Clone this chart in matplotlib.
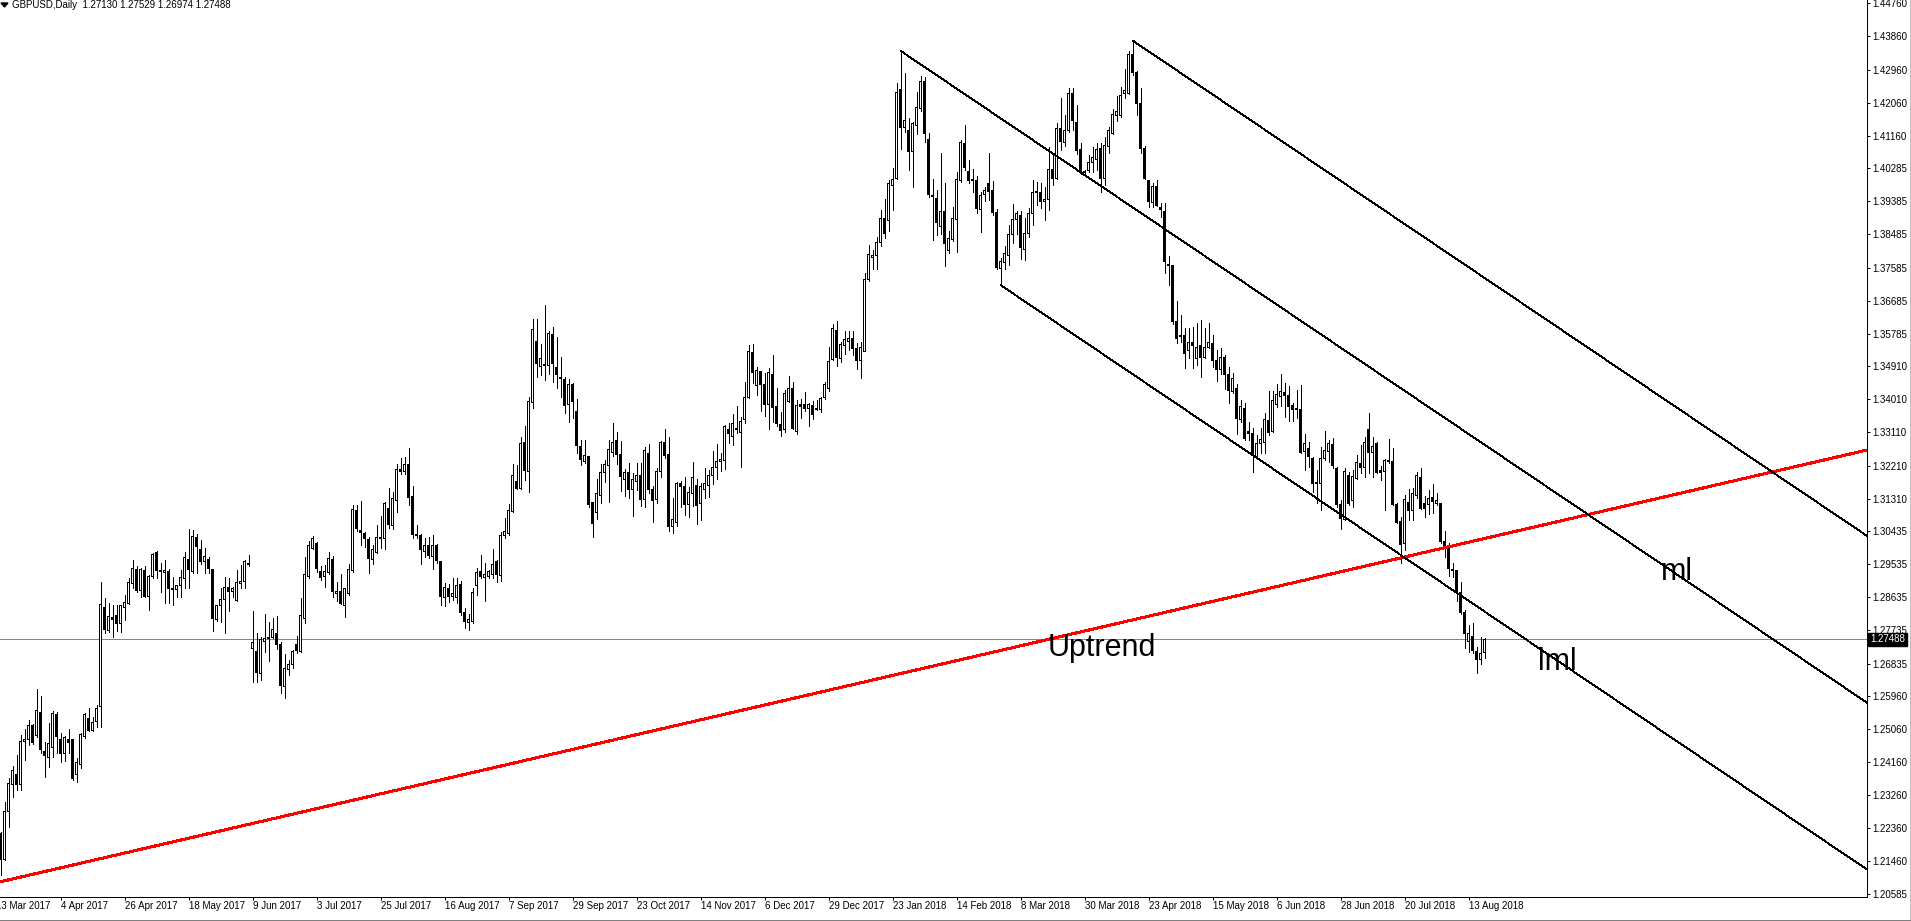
import matplotlib
matplotlib.use("Agg")
import matplotlib.pyplot as plt
import matplotlib.transforms as mtransforms
from matplotlib.lines import Line2D
from matplotlib.patches import Polygon
import numpy as np
import pandas as pd

plt.rcParams['font.family'] = ['Liberation Sans', 'DejaVu Sans']

# GBPUSD daily candles, 14 Mar 2017 .. 17 Aug 2018
opens = [
    1.2221, 1.2152, 1.2281, 1.2355, 1.2383, 1.2356, 1.2471, 1.2476, 1.2514, 1.2489,
    1.2551, 1.2444, 1.2429, 1.2456, 1.2544, 1.2478, 1.2440, 1.2476, 1.2476, 1.2381,
    1.2410, 1.2485, 1.2535, 1.2503, 1.2526, 1.2566, 1.2836, 1.2773, 1.2809, 1.2815,
    1.2793, 1.2836, 1.2847, 1.2901, 1.2939, 1.2883, 1.2937, 1.2865, 1.2919, 1.2984,
    1.2933, 1.2930, 1.2933, 1.2887, 1.2885, 1.2894, 1.2915, 1.2966, 1.2933, 1.3025,
    1.2994, 1.2960, 1.2966, 1.2938, 1.2802, 1.2840, 1.2858, 1.2890, 1.2879, 1.2854,
    1.2901, 1.2906, 1.2956, 1.2725, 1.2716, 1.2657, 1.2743, 1.2755, 1.2754, 1.2765,
    1.2734, 1.2621, 1.2668, 1.2680, 1.2736, 1.2716, 1.2806, 1.2920, 1.2996, 1.3010,
    1.2933, 1.2919, 1.2931, 1.2965, 1.2874, 1.2879, 1.2842, 1.2874, 1.2937, 1.3100,
    1.3046, 1.3037, 1.3019, 1.2965, 1.2986, 1.3023, 1.3023, 1.3105, 1.3059, 1.3125,
    1.3206, 1.3205, 1.3223, 1.3138, 1.3032, 1.3030, 1.2987, 1.3003, 1.2974, 1.3005,
    1.2960, 1.2862, 1.2888, 1.2865, 1.2862, 1.2897, 1.2823, 1.2795, 1.2797, 1.2895,
    1.2933, 1.2917, 1.2919, 1.2926, 1.2960, 1.2922, 1.3030, 1.3037, 1.3096, 1.3179,
    1.3159, 1.3284, 1.3204, 1.3392, 1.3559, 1.3490, 1.3492, 1.3494, 1.3577, 1.3488,
    1.3461, 1.3455, 1.3388, 1.3440, 1.3369, 1.3274, 1.3231, 1.3245, 1.3120, 1.3093,
    1.3141, 1.3202, 1.3222, 1.3256, 1.3290, 1.3252, 1.3184, 1.3203, 1.3157, 1.3177,
    1.3195, 1.3129, 1.3254, 1.3157, 1.3129, 1.3204, 1.3284, 1.3250, 1.3055, 1.3066,
    1.3171, 1.3164, 1.3114, 1.3146, 1.3168, 1.3117, 1.3157, 1.3168, 1.3193, 1.3216,
    1.3233, 1.3236, 1.3320, 1.3300, 1.3322, 1.3310, 1.3347, 1.3406, 1.3528, 1.3437,
    1.3476, 1.3442, 1.3387, 1.3469, 1.3381, 1.3333, 1.3318, 1.3394, 1.3429, 1.3313,
    1.3386, 1.3386, 1.3375, 1.3384, 1.3374, 1.3372, 1.3406, 1.3431, 1.3510, 1.3589,
    1.3512, 1.3548, 1.3557, 1.3565, 1.3539, 1.3505, 1.3532, 1.3725, 1.3785, 1.3791,
    1.3827, 1.3892, 1.3886, 1.3981, 1.4001, 1.4243, 1.4138, 1.4132, 1.4073, 1.4144,
    1.4191, 1.4263, 1.4105, 1.3954, 1.3945, 1.3870, 1.3912, 1.3806, 1.3836, 1.3888,
    1.3994, 1.4096, 1.4019, 1.3999, 1.3996, 1.3915, 1.3956, 1.3987, 1.3969, 1.3908,
    1.3756, 1.3773, 1.3791, 1.3849, 1.3888, 1.3899, 1.3808, 1.3850, 1.3904, 1.3961,
    1.3963, 1.3937, 1.3942, 1.4025, 1.4001, 1.4137, 1.4098, 1.4132, 1.4230, 1.4152,
    1.4078, 1.4019, 1.4023, 1.4043, 1.4051, 1.4082, 1.4001, 1.4087, 1.4123, 1.4172,
    1.4172, 1.4231, 1.4231, 1.4336, 1.4288, 1.4204, 1.4082, 1.3996, 1.3935, 1.3980,
    1.3922, 1.3910, 1.3766, 1.3763, 1.3612, 1.3571, 1.3573, 1.3533, 1.3556, 1.3512,
    1.3546, 1.3515, 1.3542, 1.3553, 1.3506, 1.3482, 1.3515, 1.3467, 1.3422, 1.3431,
    1.3345, 1.3376, 1.3313, 1.3307, 1.3243, 1.3282, 1.3283, 1.3343, 1.3314, 1.3388,
    1.3408, 1.3418, 1.3410, 1.3385, 1.3372, 1.3372, 1.3259, 1.3268, 1.3241, 1.3176,
    1.3171, 1.3241, 1.3259, 1.3277, 1.3213, 1.3114, 1.3075, 1.3193, 1.3127, 1.3186,
    1.3227, 1.3216, 1.3318, 1.3256, 1.3280, 1.3207, 1.3204, 1.3231, 1.3232, 1.3114,
    1.3069, 1.3010, 1.3121, 1.3098, 1.3141, 1.3189, 1.3118, 1.3114, 1.3135, 1.3118,
    1.3117, 1.3014, 1.3005, 1.2940, 1.2937, 1.2876, 1.2822, 1.2743, 1.2756, 1.2716,
    1.2695, 1.27130,
]
highs = [
    1.2225, 1.2308, 1.2372, 1.2405, 1.2435, 1.2489, 1.2505, 1.2530, 1.2519, 1.2613,
    1.2595, 1.2471, 1.2523, 1.2555, 1.2553, 1.2494, 1.2487, 1.2505, 1.2478, 1.2426,
    1.2496, 1.2548, 1.2562, 1.2539, 1.2571, 1.2904, 1.2861, 1.2849, 1.2843, 1.2843,
    1.2843, 1.2870, 1.2915, 1.2965, 1.2948, 1.2942, 1.2948, 1.2924, 1.2983, 1.2989,
    1.2957, 1.2965, 1.2939, 1.2919, 1.2897, 1.2937, 1.2987, 1.3048, 1.3046, 1.3035,
    1.3019, 1.2996, 1.2974, 1.2939, 1.2843, 1.2888, 1.2919, 1.2915, 1.2892, 1.2937,
    1.2951, 1.2965, 1.2978, 1.2827, 1.2767, 1.2756, 1.2818, 1.2797, 1.2806, 1.2813,
    1.2743, 1.2708, 1.2693, 1.2720, 1.2758, 1.2861, 1.2974, 1.3016, 1.3031, 1.3013,
    1.2947, 1.2951, 1.2985, 1.2975, 1.2906, 1.2926, 1.2888, 1.2953, 1.3114, 1.3114,
    1.3125, 1.3040, 1.3028, 1.3005, 1.3060, 1.3084, 1.3123, 1.3159, 1.3150, 1.3224,
    1.3242, 1.3245, 1.3268, 1.3166, 1.3060, 1.3034, 1.3025, 1.3028, 1.3032, 1.3007,
    1.2962, 1.2901, 1.2899, 1.2915, 1.2915, 1.2908, 1.2835, 1.2817, 1.2888, 1.2942,
    1.2978, 1.2956, 1.2937, 1.2994, 1.2965, 1.3041, 1.3079, 1.3116, 1.3224, 1.3222,
    1.3298, 1.3328, 1.3406, 1.3619, 1.3618, 1.3551, 1.3657, 1.3587, 1.3596, 1.3569,
    1.3515, 1.3461, 1.3455, 1.3444, 1.3401, 1.3290, 1.3290, 1.3247, 1.3123, 1.3184,
    1.3225, 1.3236, 1.3290, 1.3336, 1.3313, 1.3289, 1.3212, 1.3229, 1.3200, 1.3227,
    1.3229, 1.3272, 1.3280, 1.3166, 1.3214, 1.3288, 1.3320, 1.3298, 1.3132, 1.3177,
    1.3179, 1.3191, 1.3164, 1.3232, 1.3184, 1.3173, 1.3213, 1.3209, 1.3261, 1.3280,
    1.3254, 1.3331, 1.3337, 1.3361, 1.3383, 1.3354, 1.3449, 1.3548, 1.3551, 1.3488,
    1.3479, 1.3473, 1.3487, 1.3521, 1.3431, 1.3367, 1.3426, 1.3465, 1.3447, 1.3399,
    1.3403, 1.3420, 1.3390, 1.3396, 1.3399, 1.3408, 1.3449, 1.3544, 1.3604, 1.3613,
    1.3556, 1.3586, 1.3586, 1.3585, 1.3553, 1.3557, 1.3743, 1.3820, 1.3806, 1.3842,
    1.3915, 1.3945, 1.3996, 1.4028, 1.4261, 1.4347, 1.4286, 1.4164, 1.4153, 1.4234,
    1.4280, 1.4277, 1.4123, 1.3999, 1.3969, 1.4069, 1.3987, 1.3858, 1.3924, 1.4019,
    1.4105, 1.4145, 1.4051, 1.4026, 1.4008, 1.3965, 1.3978, 1.4069, 1.3994, 1.3917,
    1.3784, 1.3818, 1.3874, 1.3930, 1.3912, 1.3912, 1.3892, 1.3919, 1.3996, 1.3992,
    1.3987, 1.3978, 1.4087, 1.4069, 1.4150, 1.4218, 1.4173, 1.4245, 1.4245, 1.4200,
    1.4096, 1.4023, 1.4064, 1.4087, 1.4096, 1.4096, 1.4112, 1.4139, 1.4188, 1.4224,
    1.4248, 1.4297, 1.4347, 1.4375, 1.4293, 1.4245, 1.4089, 1.3996, 1.3989, 1.3996,
    1.3935, 1.3935, 1.3790, 1.3766, 1.3669, 1.3630, 1.3594, 1.3594, 1.3596, 1.3607,
    1.3616, 1.3594, 1.3607, 1.3575, 1.3535, 1.3540, 1.3520, 1.3488, 1.3471, 1.3442,
    1.3399, 1.3390, 1.3340, 1.3322, 1.3304, 1.3322, 1.3363, 1.3424, 1.3424, 1.3442,
    1.3470, 1.3445, 1.3436, 1.3390, 1.3426, 1.3440, 1.3308, 1.3286, 1.3245, 1.3210,
    1.3272, 1.3316, 1.3290, 1.3295, 1.3216, 1.3127, 1.3213, 1.3204, 1.3209, 1.3250,
    1.3277, 1.3299, 1.3363, 1.3299, 1.3286, 1.3220, 1.3238, 1.3292, 1.3268, 1.3118,
    1.3082, 1.3141, 1.3156, 1.3159, 1.3204, 1.3213, 1.3137, 1.3155, 1.3171, 1.3146,
    1.3120, 1.3042, 1.3010, 1.2956, 1.2937, 1.2906, 1.2829, 1.2788, 1.2793, 1.2729,
    1.2755, 1.27529,
]
lows = [
    1.2109, 1.2150, 1.2241, 1.2322, 1.2340, 1.2340, 1.2422, 1.2462, 1.2465, 1.2485,
    1.2440, 1.2375, 1.2402, 1.2431, 1.2440, 1.2417, 1.2420, 1.2440, 1.2367, 1.2363,
    1.2399, 1.2481, 1.2499, 1.2499, 1.2512, 1.2512, 1.2767, 1.2770, 1.2755, 1.2773,
    1.2770, 1.2802, 1.2845, 1.2888, 1.2879, 1.2865, 1.2863, 1.2829, 1.2915, 1.2915,
    1.2879, 1.2847, 1.2849, 1.2842, 1.2865, 1.2865, 1.2888, 1.2888, 1.2929, 1.2928,
    1.2954, 1.2928, 1.2928, 1.2773, 1.2800, 1.2795, 1.2767, 1.2827, 1.2865, 1.2854,
    1.2888, 1.2888, 1.2948, 1.2634, 1.2634, 1.2639, 1.2716, 1.2689, 1.2752, 1.2723,
    1.2603, 1.2589, 1.2652, 1.2672, 1.2711, 1.2716, 1.2793, 1.2917, 1.2994, 1.2933,
    1.2910, 1.2892, 1.2926, 1.2865, 1.2852, 1.2844, 1.2811, 1.2870, 1.2933, 1.3043,
    1.3005, 1.3001, 1.2930, 1.2953, 1.2983, 1.2996, 1.2995, 1.3052, 1.3050, 1.3096,
    1.3197, 1.3197, 1.3114, 1.3023, 1.3023, 1.2953, 1.2974, 1.2969, 1.2940, 1.2956,
    1.2843, 1.2841, 1.2851, 1.2856, 1.2847, 1.2815, 1.2779, 1.2775, 1.2793, 1.2870,
    1.2915, 1.2852, 1.2915, 1.2915, 1.2906, 1.2908, 1.3025, 1.3032, 1.3094, 1.3157,
    1.3157, 1.3182, 1.3150, 1.3376, 1.3462, 1.3467, 1.3452, 1.3470, 1.3449, 1.3431,
    1.3408, 1.3363, 1.3340, 1.3349, 1.3256, 1.3223, 1.3229, 1.3108, 1.3026, 1.3075,
    1.3120, 1.3177, 1.3123, 1.3247, 1.3225, 1.3153, 1.3138, 1.3132, 1.3084, 1.3155,
    1.3111, 1.3109, 1.3146, 1.3069, 1.3120, 1.3191, 1.3241, 1.3042, 1.3037, 1.3057,
    1.3108, 1.3087, 1.3082, 1.3111, 1.3061, 1.3073, 1.3132, 1.3135, 1.3171, 1.3184,
    1.3207, 1.3211, 1.3281, 1.3277, 1.3310, 1.3218, 1.3337, 1.3404, 1.3444, 1.3413,
    1.3369, 1.3356, 1.3320, 1.3340, 1.3329, 1.3302, 1.3313, 1.3393, 1.3320, 1.3308,
    1.3349, 1.3369, 1.3329, 1.3347, 1.3372, 1.3367, 1.3402, 1.3423, 1.3508, 1.3492,
    1.3503, 1.3523, 1.3535, 1.3521, 1.3483, 1.3458, 1.3532, 1.3722, 1.3756, 1.3756,
    1.3818, 1.3838, 1.3858, 1.3915, 1.3999, 1.4080, 1.4127, 1.4023, 1.3978, 1.4120,
    1.4184, 1.4100, 1.3951, 1.3833, 1.3847, 1.3851, 1.3764, 1.3797, 1.3831, 1.3800,
    1.3992, 1.4023, 1.3987, 1.3965, 1.3906, 1.3856, 1.3938, 1.3942, 1.3901, 1.3756,
    1.3711, 1.3756, 1.3765, 1.3824, 1.3851, 1.3782, 1.3779, 1.3841, 1.3874, 1.3928,
    1.3919, 1.3888, 1.3915, 1.3983, 1.3998, 1.4078, 1.4089, 1.4127, 1.4132, 1.4067,
    1.4013, 1.4013, 1.4019, 1.4019, 1.4024, 1.3965, 1.3983, 1.4069, 1.4121, 1.4157,
    1.4166, 1.4218, 1.4229, 1.4281, 1.4173, 1.4069, 1.3998, 1.3924, 1.3922, 1.3926,
    1.3895, 1.3745, 1.3711, 1.3605, 1.3555, 1.3557, 1.3485, 1.3512, 1.3485, 1.3494,
    1.3462, 1.3512, 1.3539, 1.3488, 1.3451, 1.3470, 1.3428, 1.3390, 1.3417, 1.3308,
    1.3340, 1.3290, 1.3290, 1.3204, 1.3241, 1.3254, 1.3256, 1.3304, 1.3311, 1.3381,
    1.3382, 1.3354, 1.3343, 1.3343, 1.3349, 1.3254, 1.3209, 1.3218, 1.3150, 1.3120,
    1.3100, 1.3236, 1.3231, 1.3213, 1.3109, 1.3048, 1.3073, 1.3114, 1.3109, 1.3184,
    1.3202, 1.3189, 1.3200, 1.3191, 1.3200, 1.3182, 1.3100, 1.3229, 1.3114, 1.3064,
    1.2956, 1.2992, 1.3073, 1.3073, 1.3132, 1.3102, 1.3080, 1.3090, 1.3091, 1.3114,
    1.3010, 1.2974, 1.2921, 1.2919, 1.2854, 1.2818, 1.2725, 1.2716, 1.2711, 1.2659,
    1.2682, 1.26974,
]
closes = [
    1.2152, 1.2281, 1.2358, 1.2394, 1.2356, 1.2471, 1.2476, 1.2514, 1.2469, 1.2555,
    1.2451, 1.2435, 1.2467, 1.2548, 1.2485, 1.2440, 1.2483, 1.2469, 1.2372, 1.2414,
    1.2492, 1.2544, 1.2501, 1.2523, 1.2562, 1.2845, 1.2775, 1.2811, 1.2804, 1.2793,
    1.2840, 1.2849, 1.2903, 1.2942, 1.2883, 1.2939, 1.2865, 1.2919, 1.2980, 1.2937,
    1.2935, 1.2937, 1.2888, 1.2885, 1.2894, 1.2918, 1.2972, 1.2939, 1.3028, 1.3000,
    1.2960, 1.2975, 1.2942, 1.2806, 1.2840, 1.2858, 1.2890, 1.2879, 1.2888, 1.2903,
    1.2906, 1.2960, 1.2951, 1.2740, 1.2659, 1.2749, 1.2752, 1.2752, 1.2775, 1.2734,
    1.2623, 1.2670, 1.2681, 1.2716, 1.2718, 1.2813, 1.2924, 1.3005, 1.3023, 1.2942,
    1.2917, 1.2933, 1.2969, 1.2879, 1.2880, 1.2847, 1.2886, 1.2940, 1.3103, 1.3051,
    1.3039, 1.3023, 1.2969, 1.2994, 1.3025, 1.3025, 1.3118, 1.3061, 1.3132, 1.3209,
    1.3209, 1.3223, 1.3134, 1.3034, 1.3033, 1.2994, 1.3003, 1.2978, 1.3005, 1.2962,
    1.2865, 1.2890, 1.2865, 1.2874, 1.2895, 1.2823, 1.2797, 1.2802, 1.2877, 1.2931,
    1.2919, 1.2924, 1.2933, 1.2951, 1.2926, 1.3032, 1.3043, 1.3100, 1.3193, 1.3159,
    1.3281, 1.3207, 1.3395, 1.3590, 1.3497, 1.3512, 1.3496, 1.3580, 1.3497, 1.3469,
    1.3457, 1.3384, 1.3442, 1.3394, 1.3275, 1.3238, 1.3247, 1.3114, 1.3064, 1.3144,
    1.3203, 1.3225, 1.3265, 1.3284, 1.3250, 1.3191, 1.3203, 1.3157, 1.3184, 1.3195,
    1.3130, 1.3263, 1.3157, 1.3126, 1.3206, 1.3283, 1.3247, 1.3055, 1.3075, 1.3171,
    1.3164, 1.3114, 1.3147, 1.3188, 1.3112, 1.3164, 1.3171, 1.3193, 1.3216, 1.3233,
    1.3238, 1.3327, 1.3307, 1.3336, 1.3320, 1.3340, 1.3406, 1.3530, 1.3473, 1.3480,
    1.3442, 1.3388, 1.3474, 1.3378, 1.3336, 1.3315, 1.3417, 1.3431, 1.3322, 1.3384,
    1.3382, 1.3375, 1.3386, 1.3360, 1.3375, 1.3402, 1.3442, 1.3503, 1.3592, 1.3514,
    1.3550, 1.3564, 1.3566, 1.3539, 1.3505, 1.3541, 1.3727, 1.3794, 1.3791, 1.3827,
    1.3892, 1.3851, 1.3987, 1.3998, 1.4234, 1.4138, 1.4159, 1.4075, 1.4150, 1.4193,
    1.4263, 1.4123, 1.3956, 1.3951, 1.3881, 1.3912, 1.3824, 1.3838, 1.3892, 1.3999,
    1.4099, 1.4030, 1.3994, 1.3996, 1.3918, 1.3954, 1.3969, 1.3965, 1.3908, 1.3758,
    1.3775, 1.3797, 1.3849, 1.3888, 1.3906, 1.3813, 1.3850, 1.3904, 1.3963, 1.3965,
    1.3937, 1.3944, 1.4025, 1.4001, 1.4137, 1.4100, 1.4132, 1.4232, 1.4159, 1.4076,
    1.4019, 1.4017, 1.4043, 1.4058, 1.4080, 1.4001, 1.4089, 1.4132, 1.4175, 1.4182,
    1.4227, 1.4238, 1.4338, 1.4288, 1.4204, 1.4082, 1.4001, 1.3937, 1.3980, 1.3928,
    1.3915, 1.3775, 1.3763, 1.3612, 1.3566, 1.3575, 1.3526, 1.3555, 1.3548, 1.3542,
    1.3515, 1.3542, 1.3555, 1.3506, 1.3482, 1.3515, 1.3467, 1.3426, 1.3458, 1.3349,
    1.3381, 1.3295, 1.3309, 1.3250, 1.3281, 1.3292, 1.3346, 1.3310, 1.3397, 1.3413,
    1.3422, 1.3410, 1.3381, 1.3372, 1.3376, 1.3256, 1.3280, 1.3245, 1.3173, 1.3171,
    1.3241, 1.3261, 1.3281, 1.3220, 1.3114, 1.3078, 1.3204, 1.3118, 1.3191, 1.3229,
    1.3216, 1.3283, 1.3256, 1.3272, 1.3202, 1.3202, 1.3236, 1.3236, 1.3114, 1.3066,
    1.3008, 1.3128, 1.3098, 1.3144, 1.3193, 1.3105, 1.3105, 1.3132, 1.3123, 1.3125,
    1.3014, 1.2999, 1.2942, 1.2936, 1.2881, 1.2822, 1.2764, 1.2766, 1.2720, 1.2695,
    1.2711, 1.27488,
]

price_ticks = [1.44760, 1.43860, 1.42960, 1.42060, 1.41160, 1.40285, 1.39385,
               1.38485, 1.37585, 1.36685, 1.35785, 1.34910, 1.34010, 1.33110,
               1.32210, 1.31310, 1.30435, 1.29535, 1.28635, 1.27735, 1.26835,
               1.25960, 1.25060, 1.24160, 1.23260, 1.22360, 1.21460, 1.20585]
last_price = 1.27488
header = "GBPUSD,Daily  1.27130 1.27529 1.26974 1.27488"

# trading days (no bars on 25 Dec / 1 Jan); 13 Mar only carries the first label
days = pd.bdate_range("2017-03-13", "2018-08-17")
days = days[~days.isin(pd.to_datetime(["2017-12-25", "2018-01-01"]))]

# drawn objects: trend line points and pitchfork pivots (bar, price)
trend_a = (0, 1.2091)
trend_b = (375, 1.3033)
fork_a = (225, 1.4347)
fork_b = (250, 1.3711)
fork_c = (283, 1.4375)

W, H = 1911, 921
fig = plt.figure(figsize=(W / 100, H / 100), dpi=100)
ax = fig.add_axes([0, 24 / H, 1867 / W, 897 / H])

x0, x1 = -0.125, 466.6
y0, y1 = 1.20496, 1.44850
ax.set_xlim(x0, x1)
ax.set_ylim(y0, y1)
pix = (y1 - y0) / 897      # price per screen pixel
lw1 = 72 / 100             # one pixel, in points

o = np.array(opens)
hi = np.array(highs)
lo = np.array(lows)
c = np.array(closes)
x = np.arange(len(c))
bull = c >= o
body_lo = np.minimum(o, c)
body_h = np.abs(c - o)

# wicks, then 3px black bodies, then 1px white core for up candles
ax.vlines(x, lo, hi, color="black", lw=lw1, antialiased=False, zorder=3)
ax.bar(x, body_h + pix, bottom=body_lo - pix / 2, width=0.75, color="black",
       linewidth=0, antialiased=False, zorder=4)
hollow = bull & (body_h > 1.5 * pix)
ax.bar(x[hollow], body_h[hollow] - pix, bottom=body_lo[hollow] + pix / 2, width=0.25,
       color="white", linewidth=0, antialiased=False, zorder=4.5)

# current price
ax.axhline(last_price, color="#778899", lw=lw1, antialiased=False, zorder=2)

# uptrend
ax.axline(trend_a, trend_b, color="#ff0000", lw=2 * lw1, antialiased=False, zorder=5)

# pitchfork: median through middle of B-C, side lines parallel
mid = ((fork_b[0] + fork_c[0]) / 2, (fork_b[1] + fork_c[1]) / 2)
slope = (mid[1] - fork_a[1]) / (mid[0] - fork_a[0])
for px, py in (fork_a, fork_b, fork_c):
    ax.plot([px, x1], [py, py + slope * (x1 - px)], color="black", lw=0.82 * lw1,
            antialiased=False, solid_capstyle="butt", zorder=5)

ax.text(261.75, 1.2704, "Uptrend", fontsize=22, va="baseline", zorder=6)
ax.text(415, 1.2910, "ml", fontsize=22, va="baseline", zorder=6)
ax.text(384.25, 1.2666, "lml", fontsize=22, va="baseline", zorder=6)

for side in ("top", "left"):
    ax.spines[side].set_visible(False)
for side in ("right", "bottom"):
    ax.spines[side].set_linewidth(lw1)

ax.yaxis.tick_right()
ax.set_yticks(price_ticks)
ax.set_yticklabels([f"{v:.5f}" for v in price_ticks])
ax.tick_params(axis="y", direction="out", length=2.5, width=lw1, pad=1.5, labelsize=7)

# date labels every 16 bars, left-aligned on the tick
label_idx = list(range(0, len(days), 16))
tick_x = [i - 1 for i in label_idx]
ax.set_xticks([t for t in tick_x if t >= x0])
ax.set_xticklabels([])
ax.tick_params(axis="x", direction="out", length=2.5, width=lw1)
xtrans = mtransforms.offset_copy(ax.get_xaxis_transform(), fig=fig, x=0, y=-9, units="dots")
for i, t in zip(label_idx, tick_x):
    d = days[i]
    ax.text(t, 0, f"{d.day} {d:%b %Y}", transform=xtrans, fontsize=7,
            ha="left", va="center", clip_on=False)

# last price box on the scale
ptrans = mtransforms.offset_copy(
    mtransforms.blended_transform_factory(ax.transAxes, ax.transData),
    fig=fig, x=3, y=0, units="dots")
ax.text(1.0, last_price, f"{last_price:.5f}", transform=ptrans, fontsize=7, color="white",
        ha="left", va="center", zorder=10, clip_on=False,
        bbox=dict(boxstyle="square,pad=0.2", fc="black", ec="black"))

# header
fig.text(12 / W, 1 - 5 / H, header, fontsize=7, ha="left", va="center")
fig.add_artist(Polygon([[1, H - 3], [8, H - 3], [4.5, H - 7]], closed=True, color="black",
                       transform=mtransforms.IdentityTransform()))

# window frame
fig.add_artist(Line2D([1909.5 / W] * 2, [0, 1], color="#c0c0c0", lw=lw1))
fig.add_artist(Line2D([0, 1909.5 / W], [1.5 / H] * 2, color="#808080", lw=lw1))

fig.savefig("out.png", dpi=100, facecolor="white")
